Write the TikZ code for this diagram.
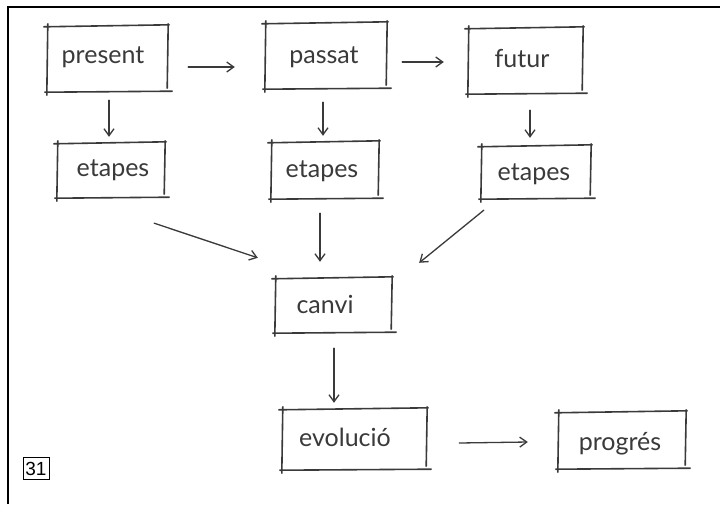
\documentclass[tikz,border=0pt]{standalone}
\usepackage{fontspec}
\setmainfont{Lato}
\usetikzlibrary{arrows.meta,calc}

\definecolor{pencil}{HTML}{3A3A3A}

% four loose strokes around a named node, ends overshooting like a quick sketch
\newcommand\sketchbox[1]{%
  \draw[sk] ($(#1.north west)+(-3,1)$) -- ($(#1.north east)+(1,-1)$);
  \draw[sk] ($(#1.north east)+(0,-2)$) -- ($(#1.south east)+(-1,-4)$);
  \draw[sk] ($(#1.north west)+(1,-2)$) -- ($(#1.south west)+(0,3)$);
  \draw[sk] ($(#1.south west)+(-2,0)$) -- ($(#1.south east)+(4,-1)$);
}

\begin{document}
\begin{tikzpicture}[x=1pt,y=-1pt,
  sk/.style={draw=pencil,line width=1.6pt,line cap=round},
  lbl/.style={draw=none,inner sep=0pt,text=pencil,font=\fontsize{25}{25}\selectfont,
              text depth=0pt},
  boxnode/.style={draw=none,rectangle,inner sep=0pt},
  arr/.style={draw=pencil,line width=1.3pt,line cap=round,
              -{Straight Barb[length=7pt,width=10pt,line width=1.3pt]}}]

  \useasboundingbox (0,0) rectangle (720,504);
  \fill[white] (0,0) rectangle (720,504);

  % outer frame (top and left edges)
  \draw[black,line width=2pt] (8,504) -- (8,7) -- (720,7);

  % box areas
  \node[boxnode,minimum width=121pt,minimum height=66pt] (pr) at (107.5,59) {};
  \node[boxnode,minimum width=122pt,minimum height=66pt] (pa) at (326,56) {};
  \node[boxnode,minimum width=115pt,minimum height=66pt] (fu) at (525.5,61) {};
  \node[boxnode,minimum width=108pt,minimum height=55pt] (e1) at (111,170.5) {};
  \node[boxnode,minimum width=108pt,minimum height=57pt] (e2) at (325,170.5) {};
  \node[boxnode,minimum width=110pt,minimum height=53pt] (e3) at (536,172.5) {};
  \node[boxnode,minimum width=117pt,minimum height=55pt] (cv) at (333.5,305.5) {};
  \node[boxnode,minimum width=145pt,minimum height=61pt] (ev) at (354.5,439.5) {};
  \node[boxnode,minimum width=128pt,minimum height=57pt] (pg) at (622,440.5) {};

  \foreach \b in {pr,pa,fu,e1,e2,e3,cv,ev,pg}{\sketchbox{\b}}

  % labels
  \node[lbl] (tpr) at (103,55) {present};
  \node[lbl] (tpa) at (324,55) {passat};
  \node[lbl] (tfu) at (522,58) {futur};
  \node[lbl] (te1) at (113,168) {etapes};
  \node[lbl] (te2) at (322,169) {etapes};
  \node[lbl] (te3) at (534,172) {etapes};
  \node[lbl] (tcv) at (325,304) {canvi};
  \node[lbl] (tev) at (345,437) {evolució};
  \node[lbl] (tpg) at (620,441) {progrés};

  % connectors
  \draw[arr] ($(pr.east)+(20,8)$) -- ($(pa.west)+(-30,11)$);
  \draw[arr] ($(pa.east)+(15,6)$) -- ($(fu.west)+(-24,1)$);
  \draw[arr] ($(pr.south)+(1.5,8)$) -- ($(e1.north)+(-2,-6)$);
  \draw[arr] ($(pa.south)+(-3,13)$) -- ($(e2.north)+(-2,-6)$);
  \draw[arr] ($(fu.south)+(4.5,16)$) -- ($(e3.north)+(-6,-8)$);
  \draw[arr] ($(e1.south east)+(-11,25)$) -- ($(cv.north west)+(-17,-20)$);
  \draw[arr] ($(e2.south)+(-5,14)$) -- ($(cv.north)+(-13.5,-16)$);
  \draw[arr] ($(e3.south west)+(3,11)$) -- ($(cv.north east)+(27,-15)$);
  \draw[arr] ($(cv.south)+(0.5,15)$) -- ($(ev.north)+(-20.5,-6)$);
  \draw[arr] ($(ev.east)+(32,3.5)$) -- ($(pg.west)+(-30,1.5)$);

  % page number tag
  \node[draw=black,line width=0.8pt,inner sep=0pt,minimum width=26pt,minimum height=22pt,
        font=\fontspec{Liberation Sans}\fontsize{19}{19}\selectfont] (num) at (36,468.5) {31};
\end{tikzpicture}
\end{document}
